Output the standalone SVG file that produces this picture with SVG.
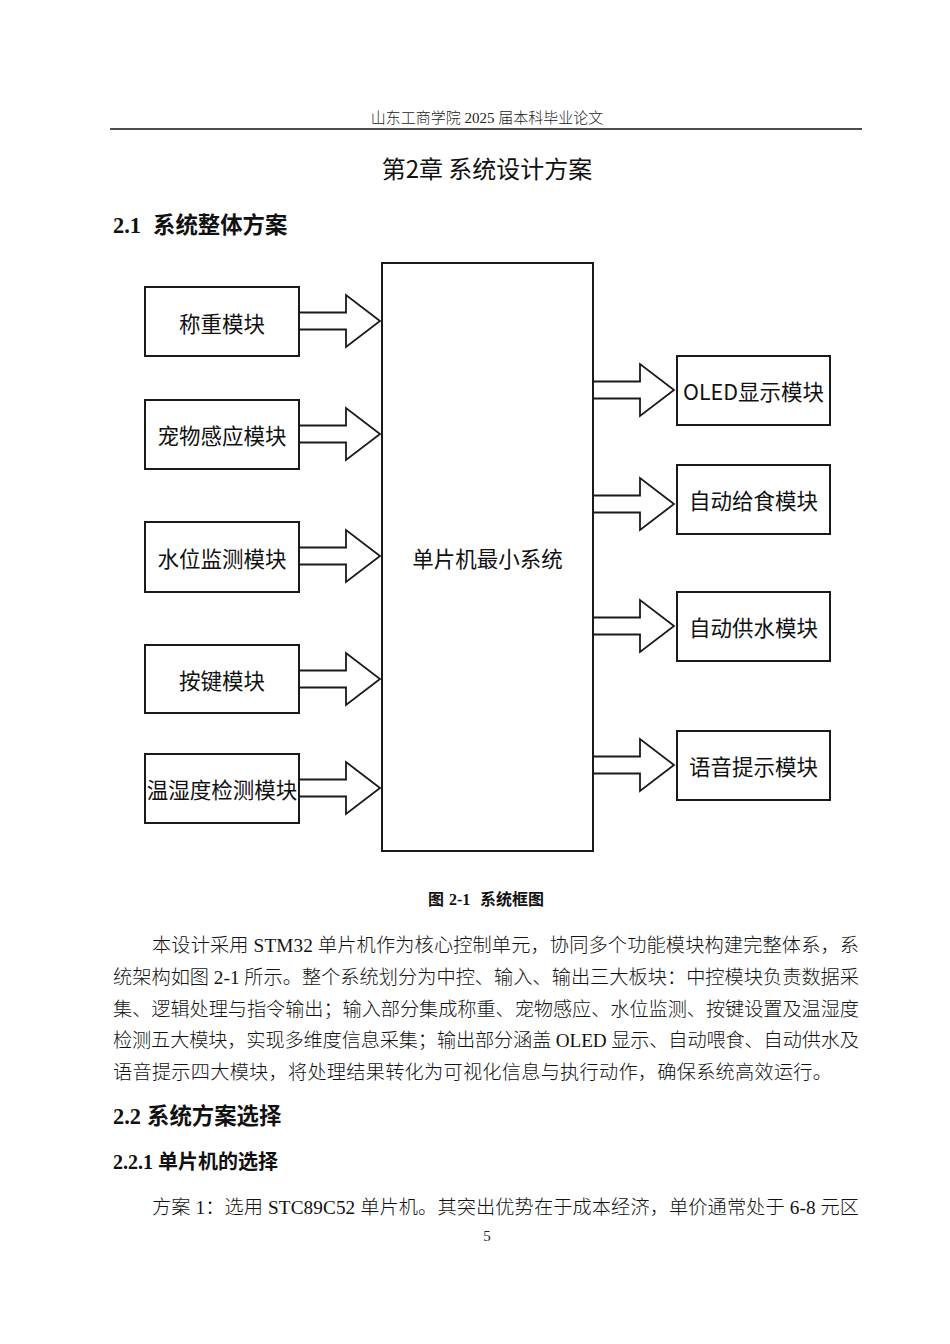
<svg xmlns="http://www.w3.org/2000/svg" width="950" height="1344" viewBox="0 0 950 1344">
<style>
.bg{fill:#fff}
.box{fill:#fff;stroke:#1a1a1a;stroke-width:2}
.arr{fill:#fff;stroke:#1a1a1a;stroke-width:1.8;stroke-linejoin:miter}
.bt{font-family:"Noto Sans CJK SC","Liberation Sans",sans-serif;font-size:21.5px;fill:#111;text-anchor:middle;dominant-baseline:central}
.body{font-family:"Liberation Serif","Noto Sans CJK SC",serif;font-size:19.2px;fill:#111;dominant-baseline:central;font-weight:300}
.hdr{font-family:"Liberation Serif","Noto Sans CJK SC",serif;font-size:15px;fill:#222;text-anchor:middle;dominant-baseline:central;font-weight:300}
.ch{font-family:"Noto Sans CJK SC","Liberation Sans",sans-serif;font-size:24px;fill:#111;text-anchor:middle;dominant-baseline:central}
.h2{font-family:"Liberation Serif","Noto Sans CJK SC",serif;font-size:22.4px;font-weight:bold;fill:#111;dominant-baseline:central}
.h3{font-family:"Liberation Serif","Noto Sans CJK SC",serif;font-size:20px;font-weight:bold;fill:#111;dominant-baseline:central}
.cap{font-family:"Liberation Serif","Noto Sans CJK SC",serif;font-size:16px;font-weight:bold;fill:#111;dominant-baseline:central}
</style>
<defs>
<path id="blk" class="arr" d="M0,-8.5 H47 V-26 L81,0 L47,26 V8.5 H0 Z"/>
</defs>
<rect class="bg" x="0" y="0" width="950" height="1344"/>

<g id="page-header">
<text class="hdr" x="487" y="118">山东工商学院 2025 届本科毕业论文</text>
<line x1="110" y1="129" x2="862" y2="129" stroke="#111" stroke-width="1.5"/>
</g>
<text class="ch" x="487" y="167">第2章 系统设计方案</text>
<text class="h2" x="113" y="225">2.1<tspan x="153">系统整体方案</tspan></text>

<g id="connectors">
<use href="#blk" transform="translate(299,321)"/>
<use href="#blk" transform="translate(299,434)"/>
<use href="#blk" transform="translate(299,556)"/>
<use href="#blk" transform="translate(299,679)"/>
<use href="#blk" transform="translate(299,788)"/>
<use href="#blk" transform="translate(593,390)"/>
<use href="#blk" transform="translate(593,504)"/>
<use href="#blk" transform="translate(593,626)"/>
<use href="#blk" transform="translate(593,765)"/>
</g>

<g id="mcu">
<rect class="box" x="382" y="263" width="211" height="588"/>
<text class="bt" x="487.5" y="557">单片机最小系统</text>
</g>
<g id="weigh">
<rect class="box" x="145" y="287" width="154" height="69"/>
<text class="bt" x="222" y="322">称重模块</text>
</g>
<g id="pet">
<rect class="box" x="145" y="400" width="154" height="69"/>
<text class="bt" x="222" y="434.5">宠物感应模块</text>
</g>
<g id="water-level">
<rect class="box" x="145" y="522" width="154" height="70"/>
<text class="bt" x="222" y="557">水位监测模块</text>
</g>
<g id="keys">
<rect class="box" x="145" y="645" width="154" height="68"/>
<text class="bt" x="222" y="679">按键模块</text>
</g>
<g id="temp-hum">
<rect class="box" x="145" y="754" width="154" height="69"/>
<text class="bt" x="222" y="788.5">温湿度检测模块</text>
</g>
<g id="oled">
<rect class="box" x="677" y="356" width="153" height="69"/>
<text class="bt" x="753.5" y="390.5">OLED显示模块</text>
</g>
<g id="feed">
<rect class="box" x="677" y="465" width="153" height="69"/>
<text class="bt" x="753.5" y="499.5">自动给食模块</text>
</g>
<g id="water-supply">
<rect class="box" x="677" y="592" width="153" height="69"/>
<text class="bt" x="753.5" y="626.5">自动供水模块</text>
</g>
<g id="voice">
<rect class="box" x="677" y="731" width="153" height="69"/>
<text class="bt" x="753.5" y="765.5">语音提示模块</text>
</g>

<text class="cap" x="428" y="899">图<tspan x="449">2-1</tspan><tspan x="480">系统框图</tspan></text>

<g id="body-text">
<text class="body" x="152" y="945" textLength="707" lengthAdjust="spacing">本设计采用 STM32 单片机作为核心控制单元，协同多个功能模块构建完整体系，系</text>
<text class="body" x="113" y="977" textLength="746" lengthAdjust="spacing">统架构如图 2-1 所示。整个系统划分为中控、输入、输出三大板块：中控模块负责数据采</text>
<text class="body" x="113" y="1009" textLength="746" lengthAdjust="spacing">集、逻辑处理与指令输出；输入部分集成称重、宠物感应、水位监测、按键设置及温湿度</text>
<text class="body" x="113" y="1040" textLength="746" lengthAdjust="spacing">检测五大模块，实现多维度信息采集；输出部分涵盖 OLED 显示、自动喂食、自动供水及</text>
<text class="body" x="113" y="1072" textLength="719" lengthAdjust="spacing">语音提示四大模块，将处理结果转化为可视化信息与执行动作，确保系统高效运行。</text>
</g>
<text class="h2" x="113" y="1116">2.2<tspan x="147">系统方案选择</tspan></text>
<text class="h3" x="113" y="1162">2.2.1<tspan x="158">单片机的选择</tspan></text>
<text class="body" x="152" y="1207" textLength="707" lengthAdjust="spacing">方案 1：选用 STC89C52 单片机。其突出优势在于成本经济，单价通常处于 6-8 元区</text>
<text class="hdr" x="487" y="1236">5</text>
</svg>
